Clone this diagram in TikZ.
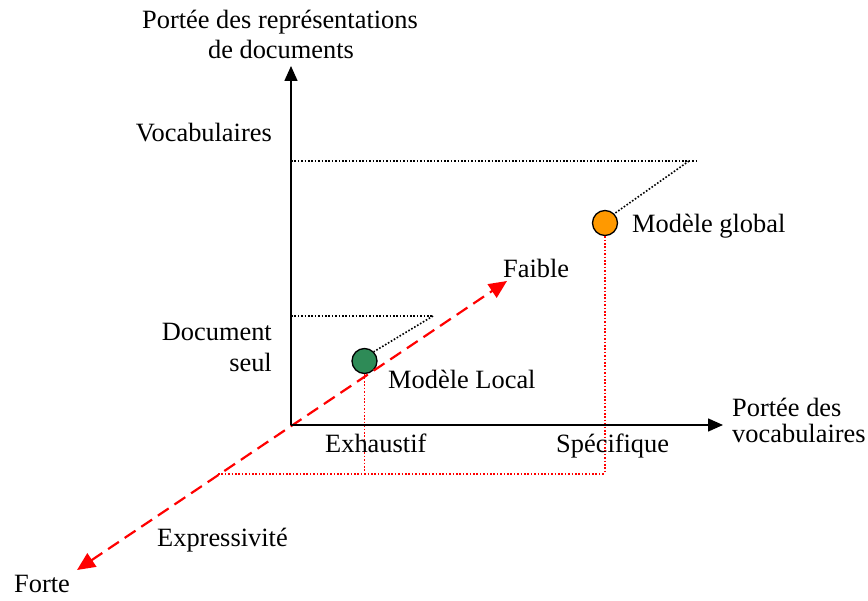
\documentclass[tikz,border=0pt]{standalone}
\usepackage{fontspec}
\setmainfont{Liberation Serif}
\usetikzlibrary{arrows.meta}
\definecolor{gpt}{RGB}{46,139,87}
\definecolor{opt}{RGB}{255,153,0}
\begin{document}
\begin{tikzpicture}[x=1pt,y=-1pt,
  lbl/.style={inner sep=0pt,font=\fontsize{26.4}{30}\selectfont},
  axis/.style={line width=1.6pt,-{Triangle[length=15pt,width=13pt]}},
  bdot/.style={line width=1.6pt,dash pattern=on 1.6pt off 1.8pt},
  rdot/.style={line width=1.6pt,red,dash pattern=on 1.6pt off 1.8pt},
  rdash/.style={line width=2.2pt,red,dash pattern=on 13pt off 7pt,
    {Triangle[length=18pt,width=16pt]}-{Triangle[length=18pt,width=16pt]}},
  dotnode/.style={circle,draw,line width=1.3pt,minimum size=25pt,inner sep=0pt}]
\useasboundingbox (0,0) rectangle (868,601);
% key points
\coordinate (O) at (291,425);
\coordinate (ytop) at (291,66);
\coordinate (xend) at (723,425);
\coordinate (vtop) at (291,161);
\coordinate (vend) at (697,161);
\coordinate (vdiag) at (689,161);
\coordinate (dtop) at (291,316);
\coordinate (dend) at (433,316);
\coordinate (faible) at (507,281);
\coordinate (forte) at (77,570);
\coordinate (bl) at (218,474);
\coordinate (bm) at (364.5,474);
\coordinate (br) at (605,474);
% circles
\node[dotnode,fill=gpt] (loc) at (364.5,361) {};
\node[dotnode,fill=opt] (glob) at (605,223) {};
% dotted black guides
\draw[bdot] (vtop) -- (vend);
\draw[bdot] (vdiag) -- (glob.north east);
\draw[bdot] (dtop) -- (dend);
\draw[bdot] (dend) -- (loc.north east);
% red dotted projections
\draw[rdot] (loc.south) -- (bm);
\draw[rdot] (glob.south) -- (br);
\draw[rdot] (bl) -- (br);
% red dashed expressivity axis
\draw[rdash] (forte) -- (faible);
% axes
\draw[axis] (O) -- (ytop);
\draw[axis] (O) -- (xend);
% labels
\node[lbl,anchor=base] (t1) at (280,29) {Portée des représentations};
\node[lbl,anchor=base] (t2) at (281,59) {de documents};
\node[lbl,anchor=base east] (voc) at (272,142) {Vocabulaires};
\node[lbl,anchor=base east] (doc) at (272,341) {Document};
\node[lbl,anchor=base east] (seul) at (272,372) {seul};
\node[lbl,anchor=base west] (mg) at (632,233) {Modèle global};
\node[lbl,anchor=base west] (fa) at (503,278) {Faible};
\node[lbl,anchor=base west] (ml) at (388,389) {Modèle Local};
\node[lbl,anchor=base west] (ex) at (325,453) {Exhaustif};
\node[lbl,anchor=base west] (sp) at (556,453) {Spécifique};
\node[lbl,anchor=base west] (pv1) at (732,417) {Portée des};
\node[lbl,anchor=base west] (pv2) at (732,443) {vocabulaires};
\node[lbl,anchor=base west] (expr) at (157,547) {Expressivité};
\node[lbl,anchor=base west] (fo) at (14,592) {Forte};
\end{tikzpicture}
\end{document}
